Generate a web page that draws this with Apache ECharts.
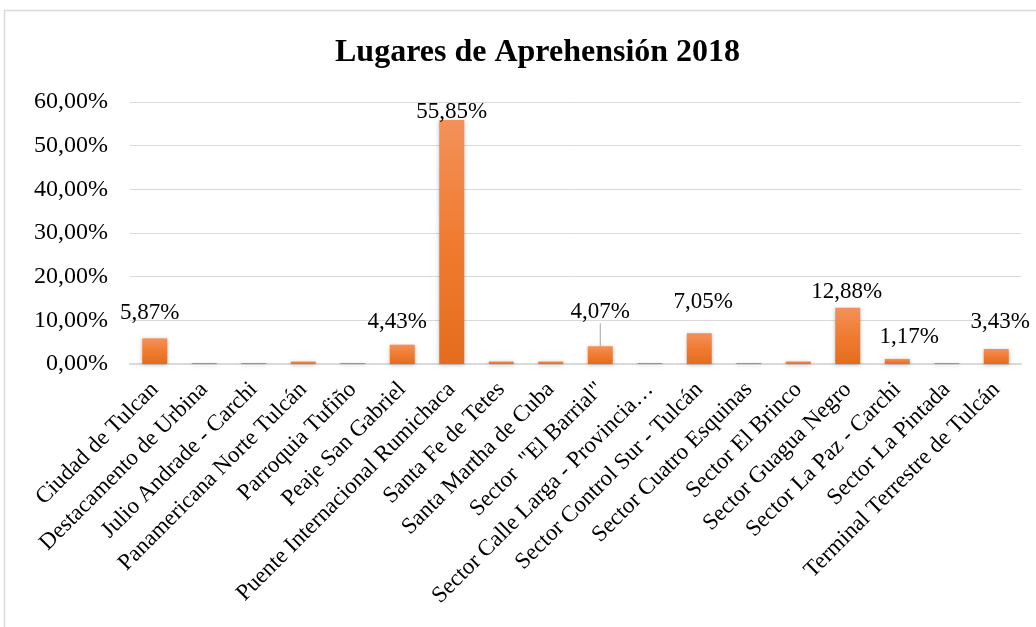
<!DOCTYPE html>
<html>
<head>
<meta charset="utf-8">
<script src="https://cdn.jsdelivr.net/npm/echarts@6/dist/echarts.min.js"></script>
<style>
  html, body { margin: 0; padding: 0; background: #fff; }
  #chart { width: 1036px; height: 627px; }
</style>
</head>
<body>
<div id="chart"></div>
<script>
const categories = [
  'Ciudad de Tulcan',
  'Destacamento de Urbina',
  'Julio Andrade - Carchi',
  'Panamericana Norte Tulcán',
  'Parroquia Tufiño',
  'Peaje San Gabriel',
  'Puente Internacional Rumichaca',
  'Santa Fe de Tetes',
  'Santa Martha de Cuba',
  'Sector  "El Barrial"',
  'Sector Calle Larga - Provincia…',
  'Sector Control Sur - Tulcán',
  'Sector Cuatro Esquinas',
  'Sector El Brinco',
  'Sector Guagua Negro',
  'Sector La Paz - Carchi',
  'Sector La Pintada',
  'Terminal Terrestre de Tulcán'
];
const values = [5.87, 0.23, 0.23, 0.58, 0.23, 4.43, 55.85, 0.58, 0.58, 4.07, 0.23, 7.05, 0.23, 0.58, 12.88, 1.17, 0.23, 3.43];
// which bars carry a value label
const labelled = [0, 5, 6, 9, 11, 14, 15, 17];
const yTicks = [0, 10, 20, 30, 40, 50, 60];

const fmt = v => v.toFixed(2).replace('.', ',') + '%';

// label placement tweaks (dx, dy) relative to the default 'top' position
const labelShift = {
  0: [-5, -10], 5: [-5, -7], 6: [0, 7], 9: [0, -19],
  11: [4, -16], 14: [-1, 0], 15: [12, -6], 17: [4, -12]
};

const chart = echarts.init(document.getElementById('chart'));
const serif = '"Liberation Serif", "Times New Roman", serif';

const option = {
  animation: false,
  backgroundColor: '#fff',
  textStyle: { fontFamily: serif },
  title: {
    text: 'Lugares de Aprehensión 2018',
    left: 330,
    top: 32,
    textStyle: { fontFamily: serif, fontSize: 32, fontWeight: 'bold', color: '#000' }
  },
  graphic: [{
    type: 'rect',
    shape: { x: 4.5, y: 10.5, width: 1100, height: 700 },
    style: { fill: 'none', stroke: '#d9d9d9', lineWidth: 1.5 },
    silent: true
  }],
  grid: { left: 130, right: 15, top: 102, bottom: 263 },
  xAxis: {
    type: 'category',
    data: categories,
    axisLine: { lineStyle: { color: '#d9d9d9', width: 2 } },
    axisTick: { show: false },
    axisLabel: {
      interval: 0,
      rotate: 45,
      margin: 22,
      color: '#000',
      fontFamily: serif,
      fontSize: 23
    }
  },
  yAxis: {
    type: 'value',
    min: yTicks[0],
    max: yTicks[yTicks.length - 1],
    interval: 10,
    axisLine: { show: false },
    axisTick: { show: false },
    splitLine: { lineStyle: { color: '#d9d9d9', width: 1 } },
    axisLabel: {
      margin: 22,
      color: '#000',
      fontFamily: serif,
      fontSize: 24,
      formatter: v => fmt(v)
    }
  },
  series: [{
    type: 'bar',
    barWidth: 25,
    itemStyle: {
      color: new echarts.graphic.LinearGradient(0, 0, 0, 1, [
        { offset: 0, color: '#f3915a' },
        { offset: 0.5, color: '#f07b30' },
        { offset: 1, color: '#e46c1d' }
      ]),
      shadowColor: 'rgba(0,0,0,0.25)',
      shadowBlur: 4,
      shadowOffsetY: 1
    },
    data: values.map((v, i) => {
      const item = { value: v };
      if (labelled.includes(i)) {
        item.label = {
          show: true,
          position: 'top',
          distance: 4,
          formatter: p => fmt(p.value),
          color: '#000',
          fontFamily: serif,
          fontSize: 23
        };
        if (i === 9) {
          item.labelLine = { show: true, lineStyle: { color: '#a6a6a6', width: 1 } };
        }
      }
      return item;
    }),
    labelLayout: p => {
      const s = labelShift[p.dataIndex];
      return s ? { dx: s[0], dy: s[1] } : {};
    }
  }]
};

chart.setOption(option);
</script>
</body>
</html>
